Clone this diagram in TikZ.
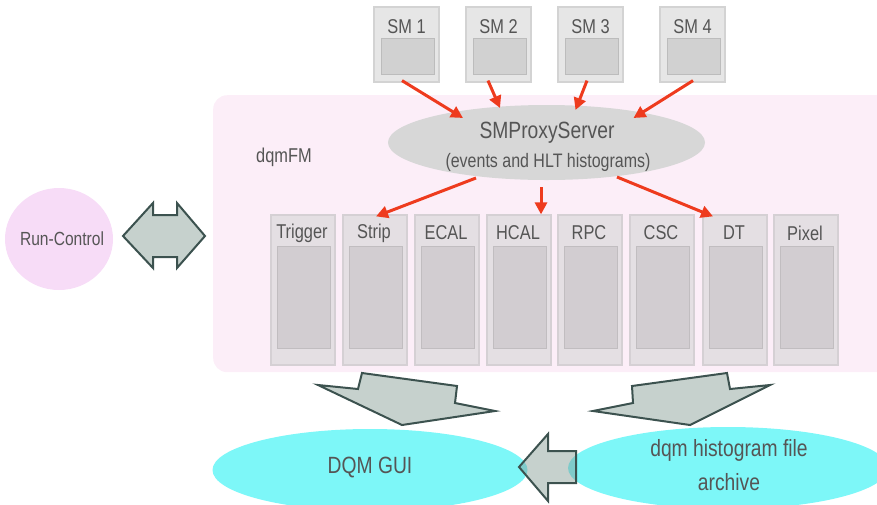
\documentclass[tikz,border=0pt]{standalone}
\usepackage{fontspec}
\setmainfont{Liberation Sans}[FakeStretch=0.82]
\usetikzlibrary{arrows.meta,calc,shapes.geometric}

\definecolor{bgpink}{HTML}{FCEEF8}
\definecolor{smfill}{HTML}{E6E6E6}
\definecolor{smline}{HTML}{D3D3D3}
\definecolor{sminner}{HTML}{D1D1D1}
\definecolor{detfill}{HTML}{E4DFE3}
\definecolor{detline}{HTML}{D5D0D4}
\definecolor{detinner}{HTML}{D2CDD1}
\definecolor{proxyfill}{HTML}{D7D7D7}
\definecolor{rcfill}{HTML}{F7DCF7}
\definecolor{cyanfill}{HTML}{7DF7F8}
\definecolor{tealmix}{HTML}{62C9C9}
\definecolor{blockfill}{HTML}{C6D1CD}
\definecolor{blockline}{HTML}{3C524F}
\definecolor{arrowred}{HTML}{EE3B1E}
\definecolor{txt}{HTML}{555555}

\tikzset{
  lbl/.style={text=txt, inner sep=0pt, font=\fontsize{#1}{#1}\selectfont},
  lbl/.default=20,
  smbox/.style={draw=smline, line width=1.2pt, fill=smfill, inner sep=0pt,
    minimum width=65pt, minimum height=75pt},
  smcore/.style={fill=sminner, draw=sminner!90!black, line width=0.4pt, inner sep=0pt,
    minimum width=53pt, minimum height=36pt},
  detbox/.style={draw=detline, line width=1.2pt, fill=detfill, inner sep=0pt,
    minimum width=64pt, minimum height=150pt},
  detcore/.style={fill=detinner, draw=detinner!92!black, line width=0.4pt, inner sep=0pt,
    minimum width=53pt, minimum height=102pt},
  feed/.style={draw=arrowred, line width=3pt,
    -{Triangle[length=12pt,width=12pt]}},
  blockarrow/.style={fill=blockfill, draw=blockline, line width=2pt, line join=miter},
  oval/.style={ellipse, inner sep=0pt},
}

\begin{document}
\begin{tikzpicture}[x=1pt,y=-1pt]
\useasboundingbox (0,0) rectangle (877,504);
\clip (0,0) rectangle (877,504);

% function-manager frame
\node[fill=bgpink, rounded corners=14pt, inner sep=0pt, anchor=north west,
      minimum width=690pt, minimum height=277pt] (dqmfm) at (213,95) {};
\node[lbl=20] (fmlabel) at (284,157) {dqmFM};

% storage managers
\foreach \i/\x in {1/406.5, 2/498.5, 3/590.5, 4/692.5}{
  \node[smbox] (sm\i) at (\x,44.5) {};
  \node[smcore] (smc\i) at (\x+1,56) {};
  \node[lbl=20] (smt\i) at (\x,27) {SM \i};
}

% proxy server
\node[oval, fill=proxyfill, minimum width=317pt, minimum height=75pt] (proxy) at (546.5,142.5) {};
\node[lbl=23.5] (proxyname) at (547,133) {SMProxyServer};
\node[lbl=19.5] (proxysub) at (548,162) {(events and HLT histograms)};

% subsystem clients
\foreach \n/\x/\t in {trig/303/Trigger, strip/375/Strip, ecal/447/ECAL, hcal/519/HCAL,
                      rpc/590/RPC, csc/662/CSC, dt/735/DT, pixel/806/Pixel}{
  \node[detbox] (\n) at (\x,290) {};
  \node[detcore] (\n core) at (\x+0.5,297) {};
  \node[lbl=20] (\n label) at (\x-1,233) {\t};
}

% data flow SM -> proxy
\draw[feed] ($(sm1.south)+(-4.5,-2)$) -- ($(proxy.center)+(-83.5,-24.5)$);
\draw[feed] ($(sm2.south)+(-10.5,-2)$) -- ($(proxy.center)+(-46.5,-34.5)$);
\draw[feed] ($(sm3.south)+(-3.5,-2)$) -- ($(proxy.center)+(29,-32.5)$);
\draw[feed] ($(sm4.south)+(0.5,-2)$) -- ($(proxy.center)+(87,-24.5)$);

% data flow proxy -> clients
\draw[feed] ($(proxy.center)+(-70.5,35.5)$) -- ($(strip.north)+(1,2)$);
\draw[feed] ($(proxy.center)+(-5.5,44.5)$) -- ($(hcal.north)+(22,0)$);
\draw[feed] ($(proxy.center)+(70.5,34.5)$) -- ($(dt.north)+(-22,2)$);

% run control
\node[oval, fill=rcfill, minimum width=108pt, minimum height=102pt] (rc) at (59,239) {};
\node[lbl=19] (rctext) at (62,239) {Run-Control};
\draw[blockarrow] (123,236) -- (153,203) -- (153,215) -- (177,215) -- (177,203)
  -- (205,236) -- (177,268) -- (177,257) -- (153,257) -- (153,268) -- cycle;

% outputs
\node[oval, fill=cyanfill, minimum width=315pt, minimum height=82pt] (gui) at (370,470) {};
\node[oval, fill=cyanfill, minimum width=320pt, minimum height=82pt] (archive) at (728,468) {};
\node[lbl=23.5] (guitext) at (370,468) {DQM GUI};
\node[lbl=23.5] (archtext) at (729,450) {dqm histogram file};
\node[lbl=23.5] (archtext2) at (729,482) {archive};

\draw[blockarrow] (362,373) -- (457,386) -- (455,403) -- (495,411) -- (402,425)
  -- (318,385) -- (358,389) -- cycle;
\draw[blockarrow] (632,386) -- (727,373) -- (730,389) -- (770,385) -- (690,425)
  -- (593,411) -- (633,403) -- cycle;

% archive -> GUI
\fill[blockfill] (519,467) -- (548,434) -- (548,451) -- (576,451) -- (576,483)
  -- (548,483) -- (548,501) -- cycle;
\begin{scope}
  \clip (519,467) -- (548,434) -- (548,451) -- (576,451) -- (576,483)
    -- (548,483) -- (548,501) -- cycle;
  \fill[tealmix, opacity=0.7] (gui.center) ellipse [x radius=157.5pt, y radius=41pt];
  \fill[tealmix, opacity=0.7] (archive.center) ellipse [x radius=160pt, y radius=41pt];
\end{scope}
\draw[blockline, line width=2pt, line join=miter] (519,467) -- (548,434) -- (548,451)
  -- (576,451) -- (576,483) -- (548,483) -- (548,501) -- cycle;
\end{tikzpicture}
\end{document}
